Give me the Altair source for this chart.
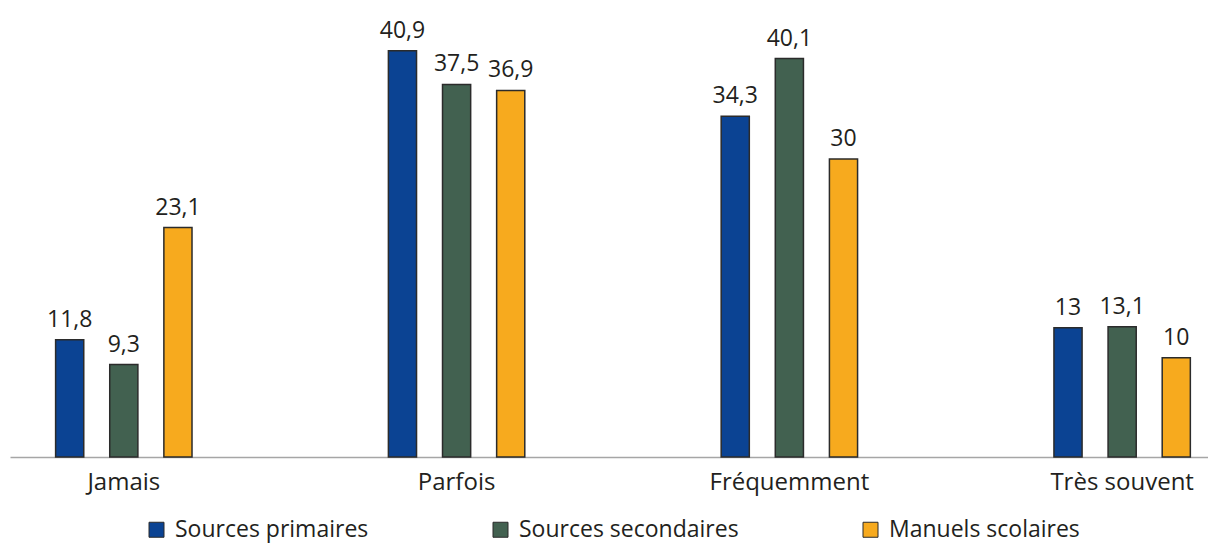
import altair as alt
import pandas as pd

categories = ["Jamais", "Parfois", "Fréquemment", "Très souvent"]
series = ["Sources primaires", "Sources secondaires", "Manuels scolaires"]
primaires = [11.8, 40.9, 34.3, 13.0]
secondaires = [9.3, 37.5, 40.1, 13.1]
manuels = [23.1, 36.9, 30.0, 10.0]
colors = ["#0b4393", "#426150", "#f7aa1e"]

rows = []
for s, vals in zip(series, [primaires, secondaires, manuels]):
    for c, v in zip(categories, vals):
        rows.append({"cat": c, "serie": s, "val": v,
                     "label": f"{v:g}".replace(".", ",")})
df = pd.DataFrame(rows)

FONT = "Open Sans"
INK = "#231f20"

x = alt.X("cat:N", sort=categories, title=None,
          scale=alt.Scale(paddingInner=0.5, paddingOuter=0.05, align=0.92),
          axis=alt.Axis(labelAngle=0, ticks=False, labelFontSize=24,
                        labelFont=FONT, labelColor=INK, labelPadding=13,
                        labelLimit=0,
                        domainColor="#a6a6a6", domainWidth=1.5, grid=False))
xo = alt.XOffset("serie:N", sort=series,
                 scale=alt.Scale(paddingInner=0.48, paddingOuter=0.277))
y = alt.Y("val:Q", scale=alt.Scale(domain=[0, 46], nice=False), axis=None)

base = alt.Chart(df).encode(x=x, xOffset=xo, y=y)

bars = base.mark_bar(stroke="#2b2b2b", strokeWidth=1.5).encode(
    color=alt.Color("serie:N", sort=series,
                    scale=alt.Scale(domain=series, range=colors),
                    legend=alt.Legend(title=None, orient="none",
                                      direction="horizontal",
                                      legendX=135, legendY=518,
                                      symbolType="square", symbolSize=225,
                                      symbolStrokeColor="#2b2b2b",
                                      symbolStrokeWidth=1,
                                      labelFont=FONT, labelFontSize=23,
                                      labelColor=INK, labelOffset=7,
                                      labelLimit=0,
                                      columnPadding=120))
)

labels = base.mark_text(baseline="alphabetic", dy=-13, font=FONT,
                        fontSize=23, color=INK).encode(text="label:N")

chart = (bars + labels).properties(
    width=1198, height=457,
    padding={"left": 10, "top": 0, "right": 0, "bottom": 88},
    autosize=alt.AutoSizeParams(type="none"),
).configure_view(stroke=None)

chart.save("out.html", embed_options={"renderer": "svg", "actions": False})
